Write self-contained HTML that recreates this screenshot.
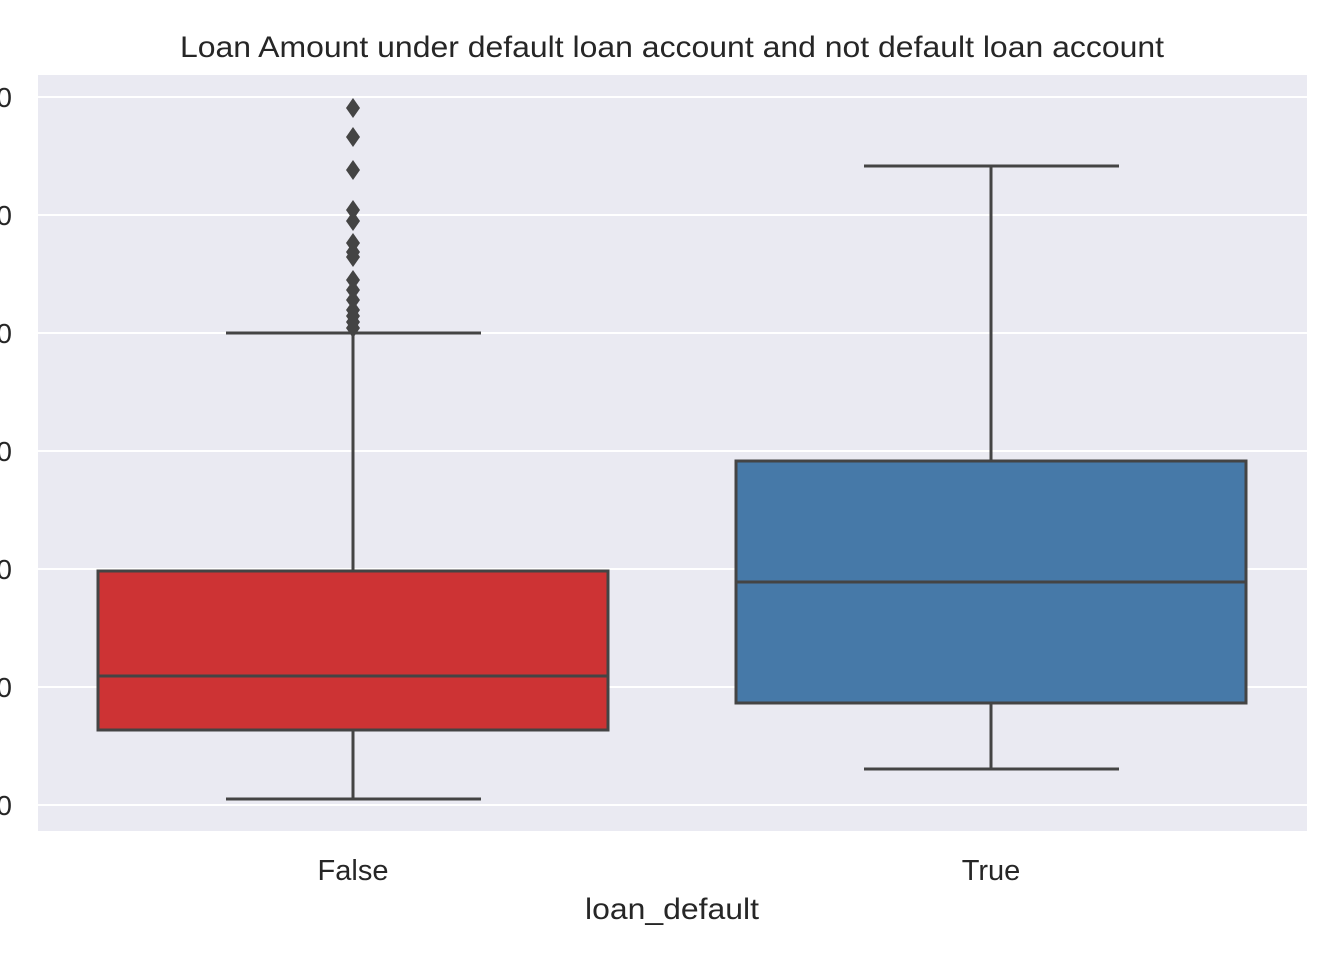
<!DOCTYPE html>
<html><head><meta charset="utf-8"><style>
body{margin:0;background:#fff;}
svg{display:block;font-family:"Liberation Sans",sans-serif;}
</style></head><body>
<svg id="chart" width="1344" height="960">
<rect x="38" y="75" width="1269" height="756" fill="#eaeaf2"/>
<g id="grid"></g><g id="yticks"></g><g id="boxes"></g>
<text x="672" y="57" text-anchor="middle" font-size="30" textLength="984" lengthAdjust="spacingAndGlyphs" fill="#262626">Loan Amount under default loan account and not default loan account</text>
<text x="672" y="919" text-anchor="middle" font-size="30" textLength="174" lengthAdjust="spacingAndGlyphs" fill="#262626">loan_default</text>
</svg>
<script>
const categories=["False","True"];
const whiskerLow=[508,3051];
const q1=[6356,8644];
const medians=[10932,18898];
const q3=[19830,29153];
const whiskerHigh=[40000,54153];
const outliersFalse=[59068,56610,53814,50424,49492,47627,46864,46441,44492,43644,42797,41949,41441,40932,40424];
const outliers=[outliersFalse,[]];
const yTicks=[0,10000,20000,30000,40000,50000,60000];
const fills=["#cd3334","#4679a8"];
const NS="http://www.w3.org/2000/svg";
const y=v=>805-v/10000*118;
const xc=i=>353+i*638;
function mk(tag,attrs,parent){const e=document.createElementNS(NS,tag);for(const k in attrs)e.setAttribute(k,attrs[k]);parent.appendChild(e);return e;}
const grid=document.getElementById('grid'),yt=document.getElementById('yticks'),bx=document.getElementById('boxes');
yTicks.forEach(t=>{
 const l=mk('line',{x1:38,x2:1307,y1:y(t),y2:y(t),stroke:'#fff','stroke-width':2},grid);
 
 
 const tx=mk('text',{x:12,y:y(t)+10,'text-anchor':'end','font-size':28,fill:'#262626'},yt);
 tx.textContent=t;
 
 
});
categories.forEach((c,i)=>{
 const cx=xc(i),g=mk('g',{},bx);
 
 
 const s={stroke:'#444','stroke-width':3};
 mk('line',Object.assign({x1:cx,x2:cx,y1:y(whiskerLow[i]),y2:y(q1[i])},s),g);
 mk('line',Object.assign({x1:cx,x2:cx,y1:y(q3[i]),y2:y(whiskerHigh[i])},s),g);
 mk('line',Object.assign({x1:cx-127,x2:cx+128,y1:y(whiskerLow[i]),y2:y(whiskerLow[i])},s),g);
 mk('line',Object.assign({x1:cx-127,x2:cx+128,y1:y(whiskerHigh[i]),y2:y(whiskerHigh[i])},s),g);
 mk('rect',Object.assign({x:cx-255,width:510,y:y(q3[i]),height:y(q1[i])-y(q3[i]),fill:fills[i]},s),g);
 mk('line',Object.assign({x1:cx-255,x2:cx+255,y1:y(medians[i]),y2:y(medians[i])},s),g);
 outliers[i].forEach(v=>{
  const p=mk('path',{d:`M${cx} ${y(v)-10}L${cx+7} ${y(v)}L${cx} ${y(v)+10}L${cx-7} ${y(v)}Z`,fill:'#444'},g);
  
  
 });
 const t=mk('text',{x:cx,y:880,'text-anchor':'middle','font-size':29,fill:'#262626'},bx);
 t.textContent=c;
 
 
});
</script>
</body></html>
